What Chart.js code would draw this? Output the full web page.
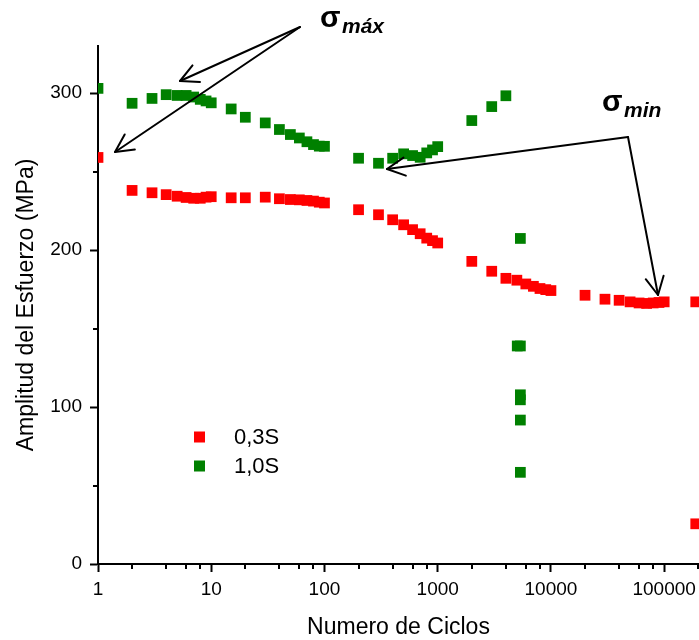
<!DOCTYPE html>
<html><head><meta charset="utf-8">
<script src="https://cdn.jsdelivr.net/npm/chart.js@4"></script>
<style>html,body{margin:0;padding:0;background:#fff}#wrap{width:699px;height:640px}</style>
</head><body><div id="wrap"><canvas id="c" width="699" height="640"></canvas></div>
<script>
// ---- data ----
const cycles03 = [1, 2, 3, 4, 5, 6, 7, 8, 9, 10, 15, 20, 30, 40, 50, 60, 70, 80, 90, 100,
  200, 300, 400, 500, 600, 700, 800, 900, 1000, 2000, 3000, 4000, 5000, 6000, 7000, 8000, 9000, 10000,
  20000, 30000, 40000, 50000, 60000, 70000, 80000, 90000, 100000, 190000, 190000];
const stress03 = [259, 238, 236.5, 235.3, 234.3, 233.5, 233, 233, 233.7, 234, 233.3, 233.3, 233.7, 232.7, 232.2, 232, 231.6, 231.2, 230.5, 230,
  225.7, 222.5, 219.3, 216.1, 213, 210.4, 207.6, 206, 204.5, 192.8, 186.5, 182, 180.8, 178.4, 176.9, 175.5, 174.8, 174.2,
  171.2, 168.7, 168, 167, 166.3, 166, 166.3, 166.6, 167, 167, 25.6];
const cycles10 = [1, 2, 3, 4, 5, 6, 7, 8, 9, 10, 15, 20, 30, 40, 50, 60, 70, 80, 90, 100,
  200, 300, 400, 500, 600, 700, 800, 900, 1000, 2000, 3000, 4000,
  5370, 5040, 5370, 5370, 5370, 5370, 5370];
const stress10 = [303, 293.5, 296.6, 299, 298.5, 298.5, 297.5, 296, 295, 293.8, 289.9, 284.6, 281, 276.8, 273.6, 271.4, 269, 267.2, 266.2, 266.1,
  258.5, 255.3, 258.5, 261.3, 260.2, 259.1, 261.9, 263.8, 265.9, 282.5, 291.4, 298.3,
  207.4, 138.9, 138.9, 107.8, 104.6, 91.7, 58.4];
const seriesLabels = ['0,3S', '1,0S'];
const seriesColors = ['#FF0000', '#008000'];
const xTickValues = [1, 10, 100, 1000, 10000, 100000];
const xMinorSteps = [2, 4, 6, 8];
const yTickValues = [0, 100, 200, 300];
const yMinorValues = [50, 150, 250];
const xTitle = 'Numero de Ciclos';
const yTitle = 'Amplitud del Esfuerzo (MPa)';

const FAM = '"Liberation Sans", Arial, sans-serif';

const minorTicks = {
  id: 'minorTicks',
  afterDraw(chart) {
    const ctx = chart.ctx, xs = chart.scales.x, ys = chart.scales.y;
    const a = chart.chartArea;
    ctx.save();
    ctx.strokeStyle = '#000'; ctx.lineWidth = 2;
    ctx.beginPath();
    xTickValues.forEach(d => {
      xMinorSteps.forEach(m => {
        const v = d * m;
        if (v > xs.max) return;
        const px = Math.round(xs.getPixelForValue(v));
        ctx.moveTo(px, a.bottom); ctx.lineTo(px, a.bottom + 5);
      });
    });
    yMinorValues.forEach(v => {
      const py = Math.round(ys.getPixelForValue(v));
      ctx.moveTo(a.left, py); ctx.lineTo(a.left - 5, py);
    });
    ctx.stroke();
    ctx.restore();
  }
};

const annotations = {
  id: 'annotations',
  afterDraw(chart) {
    const ctx = chart.ctx;
    const dsets = chart.data.datasets;
    ctx.save();
    // legend
    const legendRows = [437, 466];
    dsets.forEach((ds, i) => {
      ctx.fillStyle = ds.backgroundColor;
      ctx.fillRect(194, legendRows[i] - 5.5, 11, 11);
      ctx.fillStyle = '#000';
      ctx.font = '22px ' + FAM;
      ctx.textBaseline = 'middle';
      ctx.textAlign = 'left';
      ctx.fillText(ds.label, 234, legendRows[i] + 1);
    });
    // arrows
    ctx.strokeStyle = '#000'; ctx.lineWidth = 2; ctx.lineCap = 'round'; ctx.lineJoin = 'round';
    function arrow(x0, y0, x1, y1) {
      ctx.beginPath(); ctx.moveTo(x0, y0); ctx.lineTo(x1, y1); ctx.stroke();
      const ang = Math.atan2(y0 - y1, x0 - x1);
      const L = 20, h = 27 * Math.PI / 180;
      ctx.beginPath();
      ctx.moveTo(x1 + L * Math.cos(ang - h), y1 + L * Math.sin(ang - h));
      ctx.lineTo(x1, y1);
      ctx.lineTo(x1 + L * Math.cos(ang + h), y1 + L * Math.sin(ang + h));
      ctx.stroke();
    }
    arrow(300, 27, 180, 81);
    arrow(300, 27, 115, 152);
    arrow(628, 137, 387, 169);
    arrow(628, 137, 658, 295);
    // labels
    ctx.fillStyle = '#000';
    ctx.textBaseline = 'alphabetic'; ctx.textAlign = 'left';
    ctx.font = 'bold 30px ' + FAM;
    ctx.fillText('σ', 320, 27);
    ctx.font = 'italic bold 21px ' + FAM;
    ctx.fillText('máx', 342, 33);
    ctx.font = 'bold 30px ' + FAM;
    ctx.fillText('σ', 602, 111);
    ctx.font = 'italic bold 21px ' + FAM;
    ctx.fillText('min', 624, 117);
    ctx.restore();
  }
};

const mk = (xs, ys) => xs.map((x, i) => ({ x: x, y: ys[i] }));

new Chart(document.getElementById('c'), {
  type: 'scatter',
  data: {
    datasets: [
      { label: seriesLabels[0], data: mk(cycles03, stress03), backgroundColor: seriesColors[0], borderColor: seriesColors[0],
        pointStyle: 'rect', pointRadius: 7.6, pointHoverRadius: 7.6, borderWidth: 0, clip: 0 },
      { label: seriesLabels[1], data: mk(cycles10, stress10), backgroundColor: seriesColors[1], borderColor: seriesColors[1],
        pointStyle: 'rect', pointRadius: 7.6, pointHoverRadius: 7.6, borderWidth: 0, clip: 0 }
    ]
  },
  options: {
    responsive: false, animation: false, devicePixelRatio: 1,
    layout: { autoPadding: false, padding: { top: 46, right: 0, left: 0, bottom: 0 } },
    plugins: { legend: { display: false }, tooltip: { enabled: false } },
    scales: {
      x: {
        type: 'logarithmic', min: 1, max: 203000, position: 'bottom',
        afterBuildTicks: s => { s.ticks = xTickValues.map(v => ({ value: v, major: true })); },
        afterFit: s => { s.height = 76; s.paddingRight = 0; s.paddingLeft = 0; },
        ticks: { color: '#000', font: { family: FAM, size: 19 }, padding: 6, maxRotation: 0, autoSkip: false,
          callback: v => String(v) },
        grid: { display: true, drawOnChartArea: false, drawTicks: true, tickLength: 8, tickWidth: 2, tickColor: '#000' },
        border: { display: true, color: '#000', width: 2 },
        title: { display: true, text: xTitle, color: '#000', font: { family: FAM, size: 23, lineHeight: 1.2 }, padding: { top: 0, bottom: -1 } }
      },
      y: {
        type: 'linear', min: 0, max: 330, position: 'left',
        afterBuildTicks: s => { s.ticks = yTickValues.map(v => ({ value: v })); },
        afterFit: s => { s.width = 98; },
        ticks: { color: '#000', font: { family: FAM, size: 19 }, padding: 8, autoSkip: false, callback: v => String(v) },
        grid: { display: true, drawOnChartArea: false, drawTicks: true, tickLength: 8, tickWidth: 2, tickColor: '#000' },
        border: { display: true, color: '#000', width: 2 },
        title: { display: true, text: yTitle, color: '#000', font: { family: FAM, size: 23, lineHeight: 1.2 }, padding: { top: 13, bottom: 0 } }
      }
    }
  },
  plugins: [minorTicks, annotations]
});
</script>
</body></html>
